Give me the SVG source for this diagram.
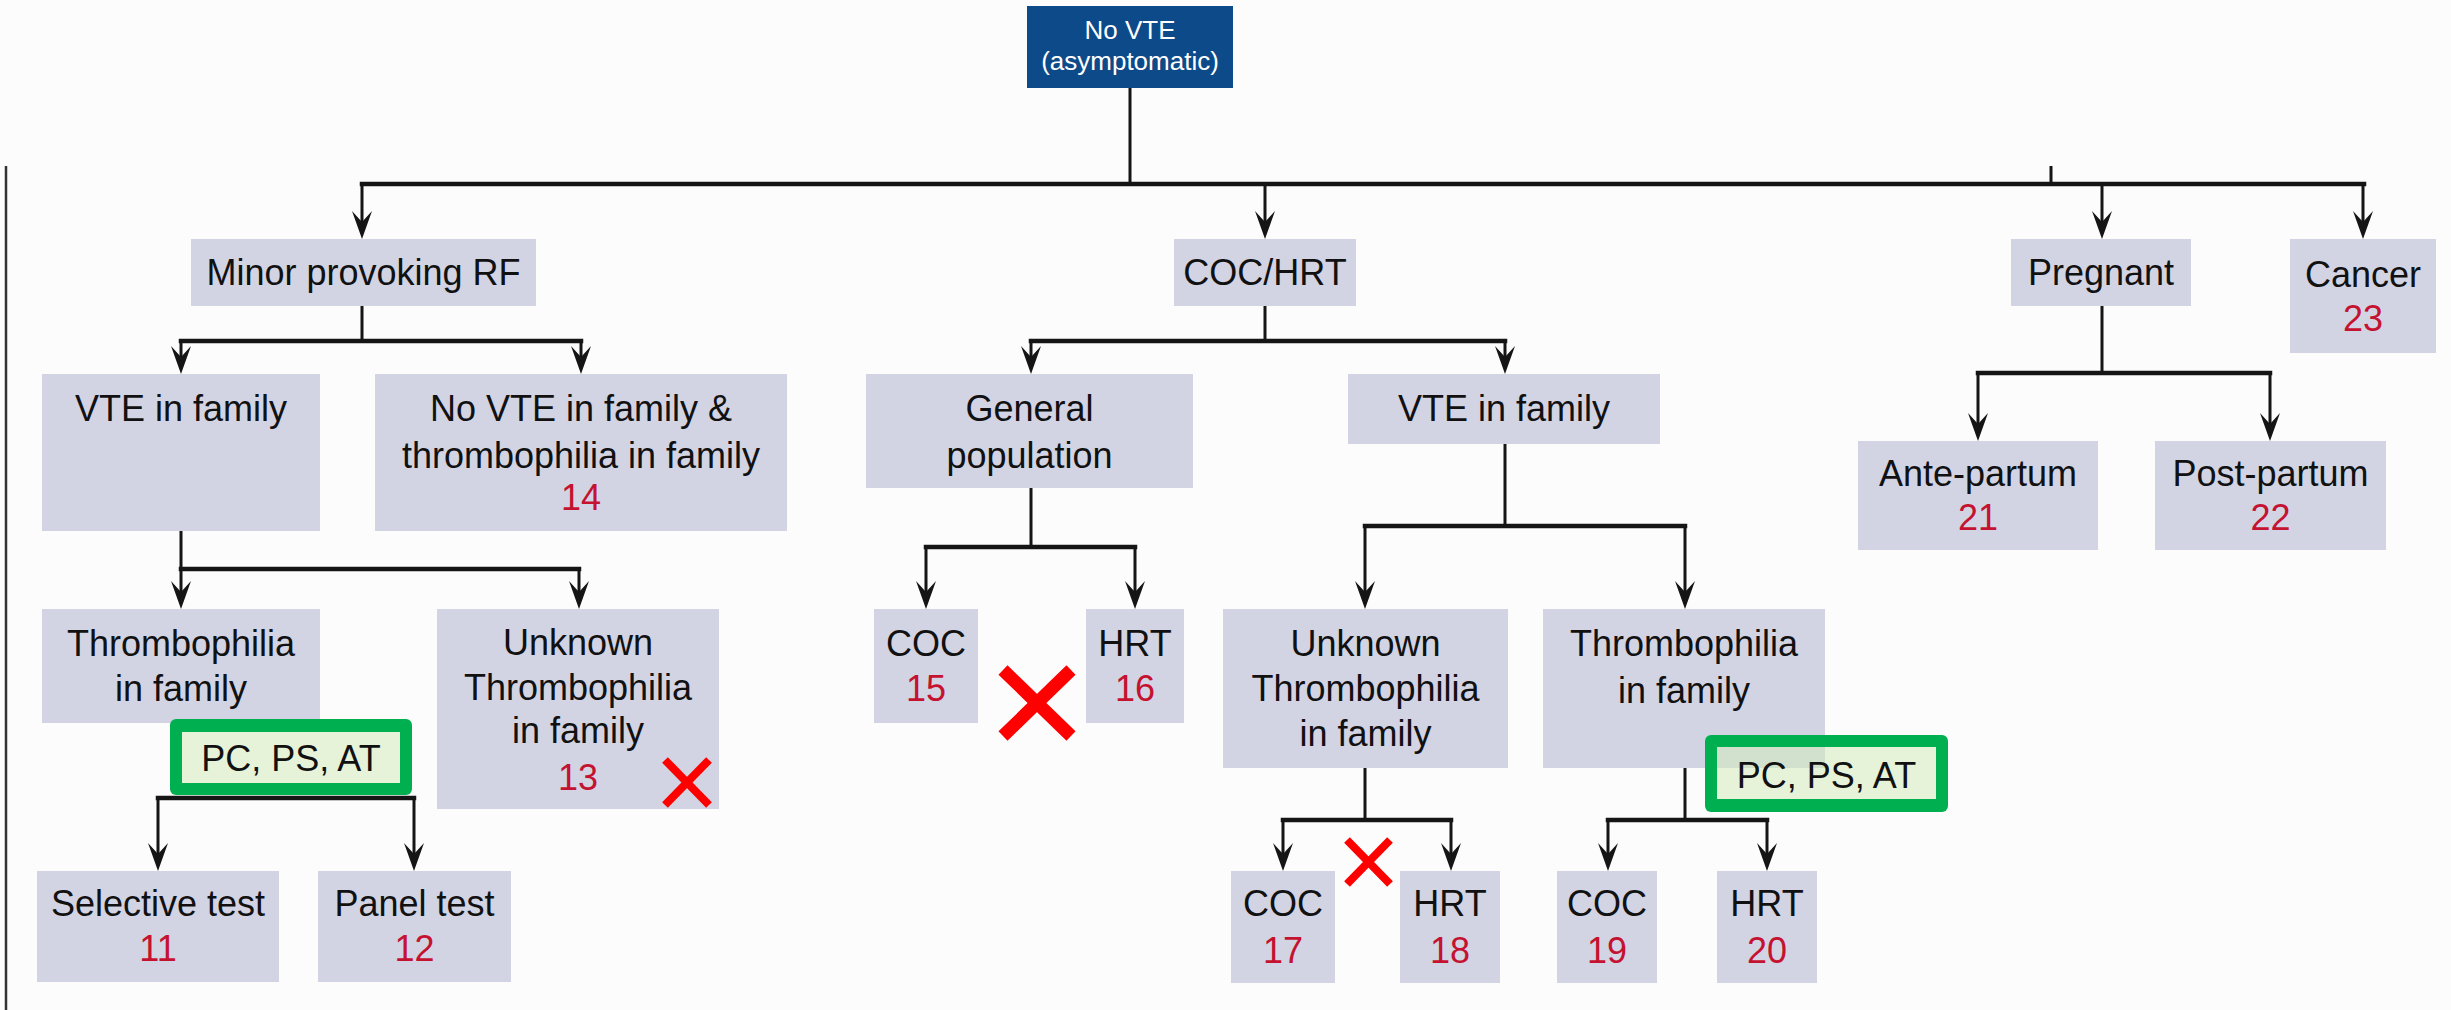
<svg xmlns="http://www.w3.org/2000/svg" width="2451" height="1010" viewBox="0 0 2451 1010">
<defs>
<style>
.box{fill:#d2d4e4}
.t{font-family:"Liberation Sans",Arial,sans-serif;font-size:36px;fill:#111;text-anchor:middle}
.n{fill:#c41230}
.top{fill:#0d4a8a}
.tw{font-family:"Liberation Sans",Arial,sans-serif;font-size:26px;fill:#fff;text-anchor:middle}
.ln{fill:none;stroke:#151515;stroke-width:3}
.hb{fill:none;stroke:#151515;stroke-width:4.5;stroke-linecap:square}
.ar{fill:none;stroke:#151515;stroke-width:3;marker-end:url(#ah)}
.gout{fill:#00b050}
.gin{fill:#92d050;fill-opacity:0.2}
.x{stroke:#ff0000;fill:none}
</style>
<marker id="ah" markerUnits="userSpaceOnUse" viewBox="-12 -11 30 22" refX="0" refY="0" markerWidth="30" markerHeight="22" orient="auto" overflow="visible">
<path d="M17,0 L-11,-10 L0,0 L-11,10 Z" fill="#151515"/>
</marker>
</defs>
<rect x="0" y="0" width="2451" height="1010" fill="#fcfcfc"/>
<line x1="6" y1="166" x2="6" y2="1010" stroke="#333" stroke-width="2.5"/>

<g id="connectors">
<path class="ln" d="M1130,88 V184"/>
<path class="ln" d="M2051,166 V184"/>
<path class="hb" d="M362,184 H2364"/>
<path class="ar" d="M362,184 V222"/>
<path class="ar" d="M1265,184 V222"/>
<path class="ar" d="M2102,184 V222"/>
<path class="ar" d="M2363,184 V222"/>
<path class="ln" d="M362,306 V341"/>
<path class="hb" d="M181,341 H581"/>
<path class="ar" d="M181,341 V357"/>
<path class="ar" d="M581,341 V357"/>
<path class="ln" d="M1265,306 V341"/>
<path class="hb" d="M1031,341 H1505"/>
<path class="ar" d="M1031,341 V357"/>
<path class="ar" d="M1505,341 V357"/>
<path class="ln" d="M2102,306 V373"/>
<path class="hb" d="M1978,373 H2270"/>
<path class="ar" d="M1978,373 V424"/>
<path class="ar" d="M2270,373 V424"/>
<path class="ln" d="M181,531 V569"/>
<path class="hb" d="M181,569 H579"/>
<path class="ar" d="M181,569 V592"/>
<path class="ar" d="M579,569 V592"/>
<path class="hb" d="M158,798 H414"/>
<path class="ar" d="M158,798 V854"/>
<path class="ar" d="M414,798 V854"/>
<path class="ln" d="M1031,488 V547"/>
<path class="hb" d="M926,547 H1135"/>
<path class="ar" d="M926,547 V592"/>
<path class="ar" d="M1135,547 V592"/>
<path class="ln" d="M1505,444 V526"/>
<path class="hb" d="M1365,526 H1685"/>
<path class="ar" d="M1365,526 V592"/>
<path class="ar" d="M1685,526 V592"/>
<path class="ln" d="M1365,768 V820"/>
<path class="hb" d="M1283,820 H1451"/>
<path class="ar" d="M1283,820 V854"/>
<path class="ar" d="M1451,820 V854"/>
<path class="ln" d="M1685,768 V820"/>
<path class="hb" d="M1608,820 H1767"/>
<path class="ar" d="M1608,820 V854"/>
<path class="ar" d="M1767,820 V854"/>
</g>

<g id="n-root"><rect class="top" x="1027" y="6" width="206" height="82"/>
<text class="tw" x="1130" y="39">No VTE</text><text class="tw" x="1130" y="70">(asymptomatic)</text></g>

<g id="n-minor"><rect class="box" x="191" y="239" width="345" height="67"/><text class="t" x="363.5" y="285">Minor provoking RF</text></g>
<g id="n-cochrt"><rect class="box" x="1174" y="239" width="182" height="67"/><text class="t" x="1265" y="285">COC/HRT</text></g>
<g id="n-pregnant"><rect class="box" x="2011" y="239" width="180" height="67"/><text class="t" x="2101" y="285">Pregnant</text></g>
<g id="n-cancer"><rect class="box" x="2290" y="239" width="146" height="114"/><text class="t" x="2363" y="287">Cancer</text><text class="t n" x="2363" y="331">23</text></g>

<g id="n-vte1"><rect class="box" x="42" y="374" width="278" height="157"/><text class="t" x="181" y="421">VTE in family</text></g>
<g id="n-novte"><rect class="box" x="375" y="374" width="412" height="157"/><text class="t" x="581" y="421">No VTE in family &amp;</text><text class="t" x="581" y="468">thrombophilia in family</text><text class="t n" x="581" y="510">14</text></g>
<g id="n-general"><rect class="box" x="866" y="374" width="327" height="114"/><text class="t" x="1029.5" y="421">General</text><text class="t" x="1029.5" y="468">population</text></g>
<g id="n-vte2"><rect class="box" x="1348" y="374" width="312" height="70"/><text class="t" x="1504" y="421">VTE in family</text></g>
<g id="n-ante"><rect class="box" x="1858" y="441" width="240" height="109"/><text class="t" x="1978" y="486">Ante-partum</text><text class="t n" x="1978" y="530">21</text></g>
<g id="n-post"><rect class="box" x="2155" y="441" width="231" height="109"/><text class="t" x="2270.5" y="486">Post-partum</text><text class="t n" x="2270.5" y="530">22</text></g>

<g id="n-thromb1"><rect class="box" x="42" y="609" width="278" height="114"/><text class="t" x="181" y="656">Thrombophilia</text><text class="t" x="181" y="701">in family</text></g>
<g id="n-unknown1"><rect class="box" x="437" y="609" width="282" height="200"/><text class="t" x="578" y="655">Unknown</text><text class="t" x="578" y="700">Thrombophilia</text><text class="t" x="578" y="743">in family</text><text class="t n" x="578" y="790">13</text></g>
<g id="n-coc15"><rect class="box" x="874" y="609" width="104" height="114"/><text class="t" x="926" y="656">COC</text><text class="t n" x="926" y="701">15</text></g>
<g id="n-hrt16"><rect class="box" x="1086" y="609" width="98" height="114"/><text class="t" x="1135" y="656">HRT</text><text class="t n" x="1135" y="701">16</text></g>
<g id="n-unknown2"><rect class="box" x="1223" y="609" width="285" height="159"/><text class="t" x="1365.5" y="656">Unknown</text><text class="t" x="1365.5" y="701">Thrombophilia</text><text class="t" x="1365.5" y="746">in family</text></g>
<g id="n-thromb2"><rect class="box" x="1543" y="609" width="282" height="159"/><text class="t" x="1684" y="656">Thrombophilia</text><text class="t" x="1684" y="703">in family</text></g>

<g id="n-pc1"><rect class="gout" x="170" y="719" width="242" height="76" rx="6"/><rect fill="#fcfcfc" x="182" y="732" width="218" height="51"/><rect class="gin" x="182" y="732" width="218" height="51"/><text class="t" x="291" y="771">PC, PS, AT</text></g>
<g id="n-pc2"><rect class="gout" x="1705" y="735" width="243" height="77" rx="6"/><rect fill="#fcfcfc" x="1717" y="747" width="219" height="52"/><rect fill="#d2d4e4" fill-opacity="0.6" x="1717" y="747" width="108" height="21"/><rect class="gin" x="1717" y="747" width="219" height="52"/><text class="t" x="1826.5" y="788">PC, PS, AT</text></g>

<g id="n-sel"><rect class="box" x="37" y="871" width="242" height="111"/><text class="t" x="158" y="916">Selective test</text><text class="t n" x="158" y="961">11</text></g>
<g id="n-panel"><rect class="box" x="318" y="871" width="193" height="111"/><text class="t" x="414.5" y="916">Panel test</text><text class="t n" x="414.5" y="961">12</text></g>
<g id="n-coc17"><rect class="box" x="1231" y="871" width="104" height="112"/><text class="t" x="1283" y="916">COC</text><text class="t n" x="1283" y="963">17</text></g>
<g id="n-hrt18"><rect class="box" x="1400" y="871" width="100" height="112"/><text class="t" x="1450" y="916">HRT</text><text class="t n" x="1450" y="963">18</text></g>
<g id="n-coc19"><rect class="box" x="1557" y="871" width="100" height="112"/><text class="t" x="1607" y="916">COC</text><text class="t n" x="1607" y="963">19</text></g>
<g id="n-hrt20"><rect class="box" x="1717" y="871" width="100" height="112"/><text class="t" x="1767" y="916">HRT</text><text class="t n" x="1767" y="963">20</text></g>

<g id="marks">
<path class="x" stroke-width="13" d="M1003,670 L1071,736 M1071,670 L1003,736"/>
<path class="x" stroke-width="8" d="M665,760 L709,805 M709,760 L665,805"/>
<path class="x" stroke-width="8" d="M1347,840 L1390,884 M1390,840 L1347,884"/>
</g>
</svg>
